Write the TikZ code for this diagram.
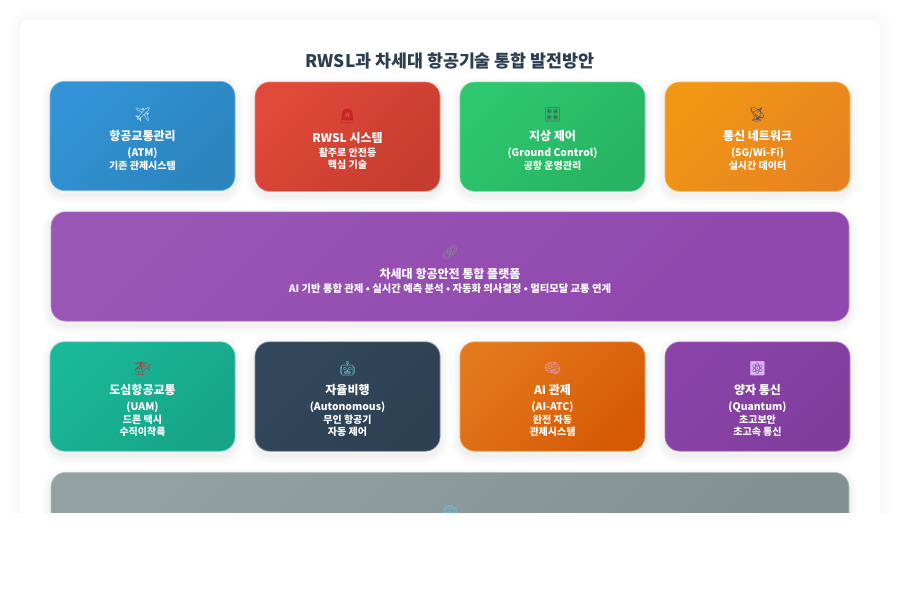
\documentclass[tikz,border=0pt]{standalone}
\usepackage{xcolor}
\usepackage{fontspec}
\setmainfont{Noto Sans CJK KR}
\newfontfamily\emojifont{Noto Emoji}
\usepackage{tikz}
\usetikzlibrary{positioning, shadows}

\definecolor{inkdark}{HTML}{2C3E50}
\definecolor{bluea}{HTML}{3498DB}\definecolor{blueb}{HTML}{2980B9}
\definecolor{reda}{HTML}{E74C3C}\definecolor{redb}{HTML}{C0392B}
\definecolor{greena}{HTML}{2ECC71}\definecolor{greenb}{HTML}{27AE60}
\definecolor{ambera}{HTML}{F39C12}\definecolor{amberb}{HTML}{E67E22}
\definecolor{violeta}{HTML}{9B59B6}\definecolor{violetb}{HTML}{8E44AD}
\definecolor{teala}{HTML}{1ABC9C}\definecolor{tealb}{HTML}{16A085}
\definecolor{slatea}{HTML}{34495E}\definecolor{slateb}{HTML}{2C3E50}
\definecolor{rusta}{HTML}{E67E22}\definecolor{rustb}{HTML}{D35400}
\definecolor{plumb}{HTML}{7D3C98}
\definecolor{greya}{HTML}{95A5A6}\definecolor{greyb}{HTML}{7F8C8D}
\definecolor{emplane}{HTML}{BCD4E6}\definecolor{emsiren}{HTML}{C81E24}
\definecolor{emknob}{HTML}{555B60}\definecolor{emdish}{HTML}{4A5560}
\definecolor{emlink}{HTML}{8A8A98}\definecolor{emheli}{HTML}{B8383C}
\definecolor{embot}{HTML}{6FC3D0}\definecolor{embrain}{HTML}{E89AB0}
\definecolor{ematom}{HTML}{D8B4F0}\definecolor{emglobe}{HTML}{6CC0EC}

% line gaps are written at each \\, from the default 12pt
\newcommand{\cemoji}[2]{\rule{0pt}{13pt}\fontsize{10.5}{12}\selectfont{\emojifont\textcolor{#1}{#2}}}
\newcommand{\ctitle}{\fontsize{9}{11}\selectfont\bfseries}
\newcommand{\cname}{\fontsize{7.8}{10}\selectfont\bfseries}
\newcommand{\csub}{\fontsize{7.5}{9}\selectfont\bfseries}
\newcommand{\cwide}{\fontsize{7.75}{9}\selectfont\bfseries}

\begin{document}
\begin{tikzpicture}[
    x=0.75pt, y=-0.75pt,
    softshadow/.style={
        general shadow={draw=black, draw opacity=#1, line width=2pt, shadow yshift=-3pt},
        general shadow={draw=black, draw opacity=#1, line width=4pt, shadow yshift=-3pt},
        general shadow={draw=black, draw opacity=#1, line width=7pt, shadow yshift=-3pt},
        general shadow={draw=black, draw opacity=#1, line width=10pt, shadow yshift=-3pt},
        general shadow={draw=black, draw opacity=#1, line width=13pt, shadow yshift=-3pt}},
    box/.style n args={3}{rectangle, draw=#1!65!white, line width=0.5pt, top color=#1!85!#2, bottom color=#2!85!#1,
        shading angle=45, minimum width=#3, minimum height=82pt, rounded corners=11pt, outer sep=0pt,
        text=white, align=center, inner sep=0pt, softshadow=0.012},
    card/.style 2 args={box={#1}{#2}{138.75pt}},
    wide/.style 2 args={box={#1}{#2}{598.5pt}},
]
\useasboundingbox (0,0) rectangle (900,600);

% Panel and heading
\node[rectangle, fill=white, minimum width=645pt, minimum height=435pt, rounded corners=7pt,
    general shadow={draw=black, draw opacity=0.008, line width=6pt},
    general shadow={draw=black, draw opacity=0.008, line width=12pt},
    general shadow={draw=black, draw opacity=0.008, line width=18pt}] (panel) at (450,310) {};
\node[font=\fontsize{13}{15}\selectfont\bfseries, text=inkdark] (heading) at (450,60.7) {RWSL과 차세대 항공기술 통합 발전방안};

% First row
\node[card={bluea}{blueb}] (atm) at (142.5,136) {\cemoji{emplane}{✈}\\[3.75pt] \ctitle 항공교통관리\\ \cname (ATM)\\[-2.25pt] \csub 기존 관제시스템};
\node[card={reda}{redb}, right=15pt of atm, yshift=-0.5pt] (rwsl) {\cemoji{emsiren}{🚨}\\[3.75pt] \ctitle RWSL 시스템\\[-1.5pt] \csub 활주로 안전등\\[-3pt] \csub 핵심 기술};
\node[card={greena}{greenb}, right=15pt of rwsl] (ground) {\cemoji{emknob}{🎛}\\[3.75pt] \ctitle 지상 제어\\ \cname (Ground Control)\\[-2.25pt] \csub 공항 운영관리};
\node[card={ambera}{amberb}, right=15pt of ground] (network) {\cemoji{emdish}{📡}\\[3.75pt] \ctitle 통신 네트워크\\ \cname (5G/Wi-Fi)\\[-2.25pt] \csub 실시간 데이터};

% Platform band
\node[wide={violeta}{violetb}] (platform) at (450,266.5) {\cemoji{emlink}{🔗}\\[3.75pt] \ctitle 차세대 항공안전 통합 플랫폼\\[-1.5pt] \cwide AI 기반 통합 관제 • 실시간 예측 분석 • 자동화 의사결정 • 멀티모달 교통 연계};

% Second row
\node[card={teala}{tealb}] (uam) at (142.5,396.5) {\cemoji{emheli}{🚁}\\[3.75pt] \ctitle 도심항공교통\\ \cname (UAM)\\[-2.25pt] \csub 드론 택시\\[-3pt] \csub 수직이착륙};
\node[card={slatea}{slateb}, right=15pt of uam] (auto) {\cemoji{embot}{🤖}\\[3.75pt] \ctitle 자율비행\\ \cname (Autonomous)\\[-2.25pt] \csub 무인 항공기\\[-3pt] \csub 자동 제어};
\node[card={rusta}{rustb}, right=15pt of auto] (aiatc) {\cemoji{embrain}{🧠}\\[3.75pt] \ctitle AI 관제\\ \cname (AI-ATC)\\[-2.25pt] \csub 완전 자동\\[-3pt] \csub 관제시스템};
\node[card={violetb}{plumb}, right=15pt of aiatc] (quantum) {\cemoji{ematom}{⚛}\\[3.75pt] \ctitle 양자 통신\\ \cname (Quantum)\\[-2.25pt] \csub 초고보안\\[-3pt] \csub 초고속 통신};

% Bottom band, cut off by the page fold
\node[wide={greya}{greyb}] (future) at (450,527) {};
\node[font=\fontsize{10.5}{12}\selectfont\emojifont, text=emglobe] (globe) at (450,513) {🌐};
\node[rectangle, fill=white, minimum width=675pt, minimum height=65.25pt, inner sep=0pt, anchor=north] (fold) at (450,513) {};
\end{tikzpicture}
\end{document}
